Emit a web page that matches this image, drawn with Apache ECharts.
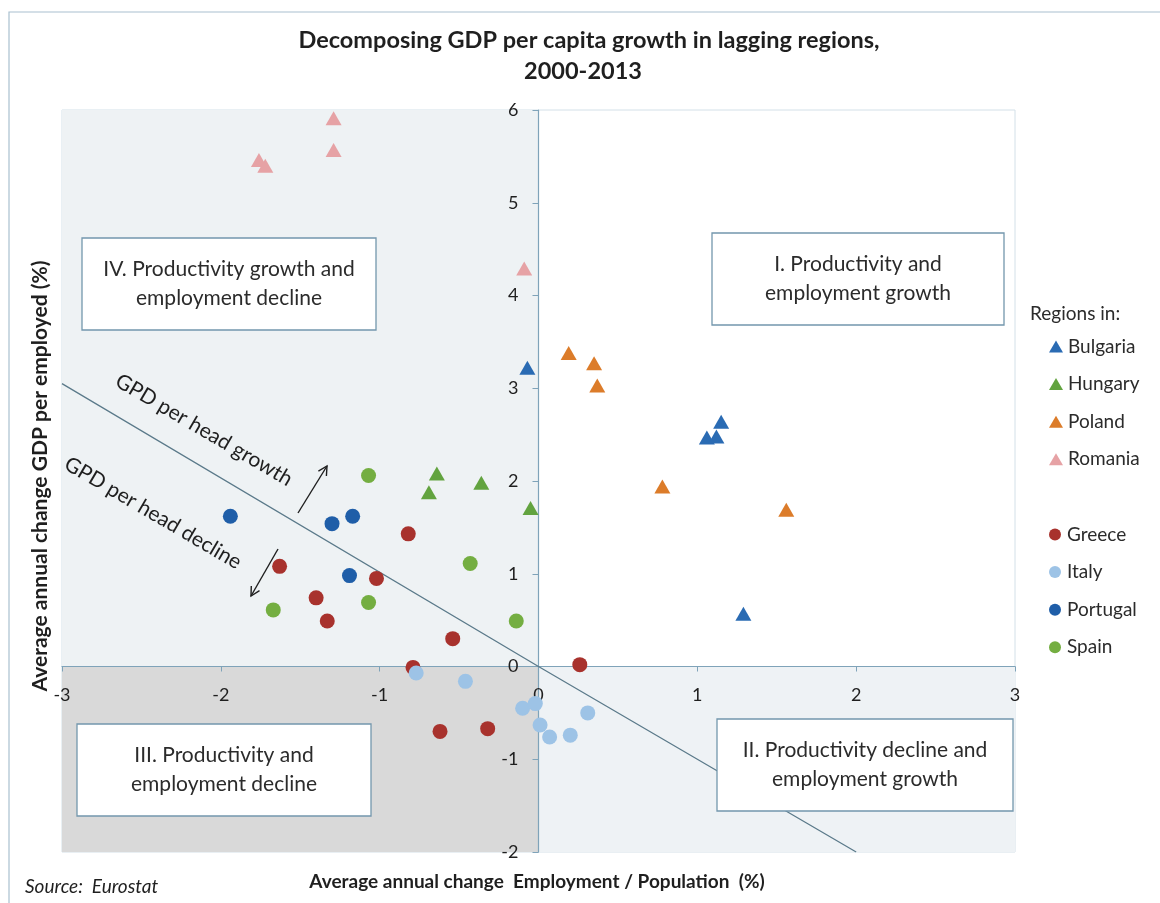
<!DOCTYPE html>
<html>
<head>
<meta charset="utf-8">
<title>Decomposing GDP per capita growth in lagging regions, 2000-2013</title>
<script src="https://cdn.jsdelivr.net/npm/echarts@6/dist/echarts.min.js"></script>
<style>
  html, body { margin: 0; padding: 0; background: #ffffff; }
  #chart { width: 1160px; height: 903px; }
</style>
</head>
<body>
<div id="chart"></div>
<script>
// Regional points: [average annual change employment/population %, average annual change GDP per employed %]
const bulgaria = [[-0.07, 3.22], [1.15, 2.64], [1.06, 2.47], [1.12, 2.48], [1.29, 0.57]];
const hungary  = [[-0.64, 2.08], [-0.69, 1.88], [-0.36, 1.98], [-0.05, 1.71]];
const poland   = [[0.19, 3.38], [0.35, 3.27], [0.37, 3.03], [0.78, 1.94], [1.56, 1.69]];
const romania  = [[-1.29, 5.91], [-1.29, 5.57], [-1.76, 5.46], [-1.72, 5.40], [-0.09, 4.29]];
const greece   = [[-0.82, 1.43], [-1.63, 1.08], [-1.02, 0.95], [-1.40, 0.74], [-1.33, 0.49],
                  [-0.54, 0.30], [-0.79, -0.01], [0.26, 0.02], [-0.62, -0.70], [-0.32, -0.67]];
const italy    = [[-0.77, -0.07], [-0.46, -0.16], [-0.10, -0.45], [-0.02, -0.40],
                  [0.01, -0.63], [0.07, -0.76], [0.20, -0.74], [0.31, -0.50]];
const portugal = [[-1.94, 1.62], [-1.30, 1.54], [-1.17, 1.62], [-1.19, 0.98]];
const spain    = [[-1.07, 2.06], [-0.43, 1.11], [-1.67, 0.61], [-1.07, 0.69], [-0.14, 0.49]];

// Break-even line: GDP per head unchanged
const breakEvenLine = [[-3, 3.05], [0, 0], [2, -2]];

// Axis ranges
const xRange = [-3, 3];
const yRange = [-2, 6];

const triangleGroup = ['Bulgaria', 'Hungary', 'Poland', 'Romania'];
const circleGroup = ['Greece', 'Italy', 'Portugal', 'Spain'];

const FONT = 'Lato, "Open Sans", sans-serif';

// Plot rectangle
const GRID = { left: 62, right: 145, top: 110, bottom: 51 };
const W = 1160, H = 903;
const plotW = W - GRID.left - GRID.right;
const plotH = H - GRID.top - GRID.bottom;
// Shift each axis inward so it crosses the other one at zero
const yAxisOffset = -plotW * (0 - xRange[0]) / (xRange[1] - xRange[0]);
const xAxisOffset = -plotH * (0 - yRange[0]) / (yRange[1] - yRange[0]);

const chart = echarts.init(document.getElementById('chart'), null, { renderer: 'canvas' });

function scatter(name, data, symbol, color) {
  return {
    name: name,
    type: 'scatter',
    data: data,
    symbol: symbol,
    symbolSize: symbol === 'triangle' ? [16, 14] : 15,
    itemStyle: { color: color, opacity: 1 },
    z: 3
  };
}

function quadrantBox(x, y, w, h, text) {
  return {
    type: 'group',
    z: 20,
    children: [
      {
        type: 'rect',
        z: 20,
        shape: { x: x, y: y, width: w, height: h },
        style: { fill: '#ffffff', stroke: '#7397ad', lineWidth: 1.3 }
      },
      {
        type: 'text',
        z: 21,
        x: x + w / 2,
        y: y + h / 2,
        style: {
          text: text,
          fontFamily: FONT,
          fontSize: 21,
          lineHeight: 29,
          fill: '#2b2b2b',
          align: 'center',
          verticalAlign: 'middle'
        }
      }
    ]
  };
}

function label(x, y, text, opts) {
  return Object.assign({
    type: 'text',
    z: 15,
    x: x,
    y: y,
    style: Object.assign({
      text: text,
      fontFamily: FONT,
      fontSize: 15,
      fill: '#1f1f1f',
      align: 'center',
      verticalAlign: 'middle'
    }, opts && opts.style)
  }, opts && opts.el);
}

const axisLabelStyle = { margin: 20, color: '#1f1f1f', fontFamily: FONT, fontSize: 18 };

const legendText = { fontFamily: FONT, fontSize: 19, color: '#2b2b2b', lineHeight: 19 };

const option = {
  backgroundColor: '#ffffff',
  animation: false,
  grid: {
    left: GRID.left, right: GRID.right, top: GRID.top, bottom: GRID.bottom,
    show: true,
    borderColor: '#d3e0e8',
    borderWidth: 1,
    backgroundColor: 'transparent'
  },
  xAxis: {
    type: 'value',
    position: 'bottom',
    offset: xAxisOffset,
    min: xRange[0], max: xRange[1], interval: 1,
    axisLine: { onZero: false, lineStyle: { color: '#7fa3b9', width: 1.2 } },
    axisTick: { show: true, length: 5, lineStyle: { color: '#7fa3b9' } },
    axisLabel: axisLabelStyle,
    splitLine: { show: false }
  },
  yAxis: {
    type: 'value',
    position: 'left',
    offset: yAxisOffset,
    min: yRange[0], max: yRange[1], interval: 1,
    axisLine: { onZero: false, lineStyle: { color: '#7fa3b9', width: 1.2 } },
    axisTick: { show: true, length: 6, lineStyle: { color: '#7fa3b9' } },
    axisLabel: axisLabelStyle,
    splitLine: { show: false }
  },
  legend: [
    {
      data: triangleGroup,
      orient: 'vertical',
      left: 1049, top: 337,
      padding: 0,
      itemWidth: 14, itemHeight: 12, itemGap: 18.6,
      textStyle: legendText,
      selectedMode: false
    },
    {
      data: circleGroup,
      orient: 'vertical',
      left: 1049, top: 525,
      padding: 0,
      itemWidth: 14, itemHeight: 12, itemGap: 18.6,
      textStyle: legendText,
      selectedMode: false
    }
  ],
  series: [
    {
      name: 'break-even',
      type: 'line',
      data: breakEvenLine,
      symbol: 'none',
      silent: true,
      z: 1,
      lineStyle: { color: '#5b7a8a', width: 1.3 },
      markArea: {
        silent: true,
        z: 0,
        data: [
          [{ coord: [xRange[0], yRange[1]], itemStyle: { color: '#eef2f4' } }, { coord: [0, 0] }],
          [{ coord: [xRange[0], 0], itemStyle: { color: '#d9d9d9' } }, { coord: [0, yRange[0]] }],
          [{ coord: [0, 0], itemStyle: { color: '#eef2f5' } }, { coord: [xRange[1], yRange[0]] }]
        ]
      }
    },
    scatter('Bulgaria', bulgaria, 'triangle', '#2a6bb3'),
    scatter('Hungary', hungary, 'triangle', '#62a33f'),
    scatter('Poland', poland, 'triangle', '#dc7c2a'),
    scatter('Romania', romania, 'triangle', '#e6a2a5'),
    scatter('Greece', greece, 'circle', '#a8322d'),
    scatter('Italy', italy, 'circle', '#9dc3e6'),
    scatter('Portugal', portugal, 'circle', '#1f5ea8'),
    scatter('Spain', spain, 'circle', '#74ae41')
  ],
  graphic: [
    // outer frame
    {
      type: 'rect', z: 0, silent: true,
      shape: { x: 9, y: 12, width: 1160, height: 900 },
      style: { fill: 'none', stroke: '#a9c0cf', lineWidth: 1.2 }
    },
    label(589, 40, 'Decomposing GDP per capita growth in lagging regions,', { style: { fontSize: 23.5, fontWeight: 'bold' } }),
    label(583, 71, '2000-2013', { style: { fontSize: 23.5, fontWeight: 'bold' } }),
    label(537, 882, 'Average annual change  Employment / Population  (%)', { style: { fontSize: 19, fontWeight: 'bold' } }),
    label(40, 476, 'Average annual change GDP per employed (%)', { style: { fontSize: 21, fontWeight: 'bold' }, el: { rotation: Math.PI / 2 } }),
    label(25, 887, 'Source:  Eurostat', { style: { fontSize: 19, fontStyle: 'italic', align: 'left' } }),
    label(1030, 314, 'Regions in:', { style: { fontSize: 19, align: 'left', fill: '#2b2b2b' } }),
    quadrantBox(82, 238, 294, 92, 'IV. Productivity growth and\nemployment decline'),
    quadrantBox(712, 233, 292, 92, 'I. Productivity and\nemployment growth'),
    quadrantBox(77, 724, 294, 92, 'III. Productivity and\nemployment decline'),
    quadrantBox(717, 719, 296, 92, 'II. Productivity decline and\nemployment growth'),
    label(204, 430, 'GPD per head growth', { style: { fontSize: 21 }, el: { rotation: -0.53 } }),
    label(153, 513, 'GPD per head decline', { style: { fontSize: 21 }, el: { rotation: -0.53 } }),
    // direction arrows
    {
      type: 'polyline', z: 15, silent: true,
      shape: { points: [[298, 513], [327, 466]] },
      style: { stroke: '#1f1f1f', lineWidth: 1.4, fill: 'none' }
    },
    {
      type: 'polyline', z: 15, silent: true,
      shape: { points: [[318.4, 471.1], [327, 466], [326.4, 476]] },
      style: { stroke: '#1f1f1f', lineWidth: 1.4, fill: 'none' }
    },
    {
      type: 'polyline', z: 15, silent: true,
      shape: { points: [[278, 549], [251, 596]] },
      style: { stroke: '#1f1f1f', lineWidth: 1.4, fill: 'none' }
    },
    {
      type: 'polyline', z: 15, silent: true,
      shape: { points: [[259.5, 590.7], [251, 596], [251.3, 586]] },
      style: { stroke: '#1f1f1f', lineWidth: 1.4, fill: 'none' }
    }
  ]
};

chart.setOption(option);
</script>
</body>
</html>
